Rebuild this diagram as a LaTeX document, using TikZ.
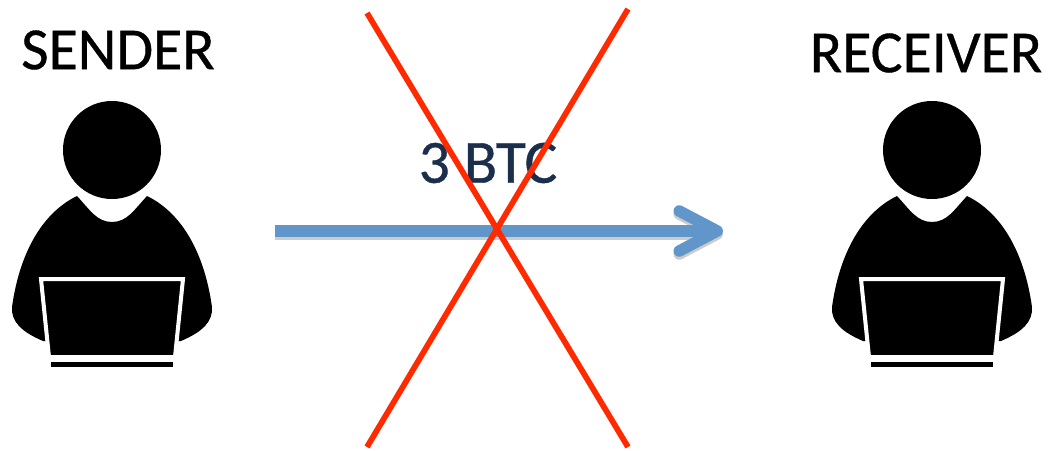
\documentclass[tikz,border=0pt]{standalone}
\usepackage{fontspec}
\setmainfont[FakeBold=0.6]{Carlito}
\usetikzlibrary{arrows.meta}
\definecolor{flowblue}{HTML}{6096C9}
\definecolor{crossred}{HTML}{FF2A00}
\definecolor{amountnavy}{HTML}{1B2E4B}
\begin{document}
\begin{tikzpicture}[x=0.02cm,y=-0.02cm]
	\useasboundingbox (0,0)rectangle(1048,450);
	\tikzset{Icon-user/.pic={
	\fill[black](0,0)circle(49);
	\fill[black](-35,46)..controls(-68,62)and(-92,100)..(-100,157)..controls(-101,172)and(-90,182)..(-69,191)--(69,191)..controls(90,182)and(101,172)..(100,157)..controls(92,100)and(68,62)..(35,46)..controls(22,60)and(15,72)..(0,72)..controls(-15,72)and(-22,60)..(-35,46)--cycle;
	\draw[white,fill=black,line width=0.08cm](-71,129)--(71,129)--(63,207)--(-63,207)--cycle;
	\fill[black](-61,212)rectangle(61,217);
	}}
	\tikzset{label/.style={font=\fontsize{34}{38}\selectfont,text=black,inner sep=0pt},
	flow/.style={line width=0.23cm,flowblue,-{Straight Barb[length=0.76cm,width=0.8cm,round]}},
	flowshadow/.style={line width=0.23cm,black!40,opacity=0.5,-{Straight Barb[length=0.76cm,width=0.8cm,round]}},
	cross/.style={line width=0.115cm,crossred}}
	\path(112,150)pic{Icon-user}(932,150)pic{Icon-user};
	\node[label](sender)at(118,50){SENDER};
	\node[label](receiver)at(926,53){RECEIVER};
	\coordinate(from)at(275,231);
	\coordinate(to)at(723,231);
	\draw[flowshadow]([yshift=-0.06cm]from)--([yshift=-0.06cm]to);
	\draw[flow](from)--(to);
	\node[font=\fontsize{35}{38}\selectfont,text=amountnavy,inner sep=0pt](amount)at(488,163){3 BTC};
	\coordinate(a)at(367,13);
	\coordinate(b)at(628,447);
	\coordinate(c)at(628,9);
	\coordinate(d)at(367,447);
	\draw[cross](a)--(b);
	\draw[cross](c)--(d);
\end{tikzpicture}
\end{document}
